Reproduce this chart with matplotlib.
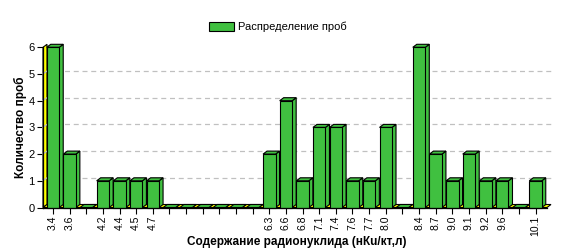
import matplotlib
matplotlib.use("Agg")
import matplotlib.pyplot as plt
from matplotlib.patches import Rectangle, Polygon

categories = ["3.4", "3.6", "", "4.2", "4.4", "4.5", "4.7", "", "", "", "", "", "",
              "6.3", "6.6", "6.8", "7.1", "7.4", "7.6", "7.7", "8.0", "", "8.4",
              "8.7", "9.0", "9.1", "9.2", "9.6", "", "10.1"]
counts = [6, 2, 0, 1, 1, 1, 1, 0, 0, 0, 0, 0, 0,
          2, 4, 1, 3, 3, 1, 1, 3, 0, 6,
          2, 1, 2, 1, 1, 0, 1]
series_name = "Распределение проб"
x_title = "Содержание радионуклида (нКu/кт,л)"
y_title = "Количество проб"

plt.rcParams['font.family'] = ['Liberation Sans', 'DejaVu Sans']

W, H, DPI = 561, 249, 100
fig = plt.figure(figsize=(W / DPI, H / DPI), dpi=DPI)
left_px, right_px, top_px, bot_px = 43, 547, 47.3, 207.5
ax = fig.add_axes([left_px / W, 1 - bot_px / H, (right_px - left_px) / W, (bot_px - top_px) / H])

xmin, xmax = -0.60, 29.69
ymin, ymax = 0, 6
ax.set_xlim(xmin, xmax)
ax.set_ylim(ymin, ymax)

# depth in pixels -> data units
dpx, dpy = 4.0, 3.0
ux = (right_px - left_px) / (xmax - xmin)
uy = (bot_px - top_px) / (ymax - ymin)
ddx, ddy = dpx / ux, dpy / uy

green = "#40C040"
yellow = "#FFFF00"

# left wall
wall = Polygon([(xmin, 0), (xmin + ddx, ddy), (xmin + ddx, ymax + ddy), (xmin, ymax)],
               closed=True, facecolor=yellow, edgecolor="black", lw=0.8, clip_on=False, zorder=2)
ax.add_patch(wall)
# floor
floor = Polygon([(xmin, 0), (xmax, 0), (xmax + ddx, ddy), (xmin + ddx, ddy)],
                closed=True, facecolor=yellow, edgecolor="black", lw=0.8, clip_on=False, zorder=2)
ax.add_patch(floor)

# gridlines on back wall
for v in range(1, ymax):
    ax.plot([xmin + ddx, xmax + ddx], [v + ddy, v + ddy], color="#C0C0C0", lw=0.9,
            dashes=(4, 3), clip_on=False, zorder=1)
    ax.plot([xmin, xmin + ddx], [v, v + ddy], color="#C0C0C0", lw=0.9, clip_on=False, zorder=3)

bw = 0.75
for i, v in enumerate(counts):
    x0, x1 = i - bw / 2, i + bw / 2
    side = Polygon([(x1, 0), (x1 + ddx, ddy), (x1 + ddx, v + ddy), (x1, v)],
                   closed=True, facecolor=green, edgecolor="black", lw=0.8, clip_on=False, zorder=4)
    top = Polygon([(x0, v), (x1, v), (x1 + ddx, v + ddy), (x0 + ddx, v + ddy)],
                  closed=True, facecolor=green, edgecolor="black", lw=0.8, clip_on=False, zorder=4)
    ax.add_patch(side)
    ax.add_patch(top)
    if v > 0:
        front = Rectangle((x0, 0), bw, v, facecolor=green, edgecolor="black", lw=0.8,
                          clip_on=False, zorder=5)
        ax.add_patch(front)

ax.set_xticks(range(len(categories)))
ax.set_xticklabels(categories, rotation=90, fontsize=7.5)
ax.set_yticks(range(ymin, ymax + 1))
ax.tick_params(axis='both', labelsize=8, length=4, width=0.8, color="black", pad=2)
ax.tick_params(axis='x', labelsize=7.5, pad=1.5)
for s in ["top", "right"]:
    ax.spines[s].set_visible(False)
for s in ["left", "bottom"]:
    ax.spines[s].set_linewidth(0.9)
    ax.spines[s].set_zorder(6)

fig.text(297 / W, 1 - 242 / H, x_title, fontsize=8.5, fontweight="bold", ha="center", va="center")
fig.text(20 / W, 1 - 127 / H, y_title, fontsize=8.5, fontweight="bold", ha="center", va="center",
         rotation=90)

# legend
handle = Rectangle((0, 0), 1, 1, facecolor=green, edgecolor="black", lw=0.8)
fig.legend([handle], [series_name], loc="center", bbox_to_anchor=(278 / W, 1 - 27 / H),
           frameon=False, fontsize=8, handlelength=2.2, handleheight=0.9, handletextpad=0.4)

fig.savefig("out.png", dpi=DPI)
